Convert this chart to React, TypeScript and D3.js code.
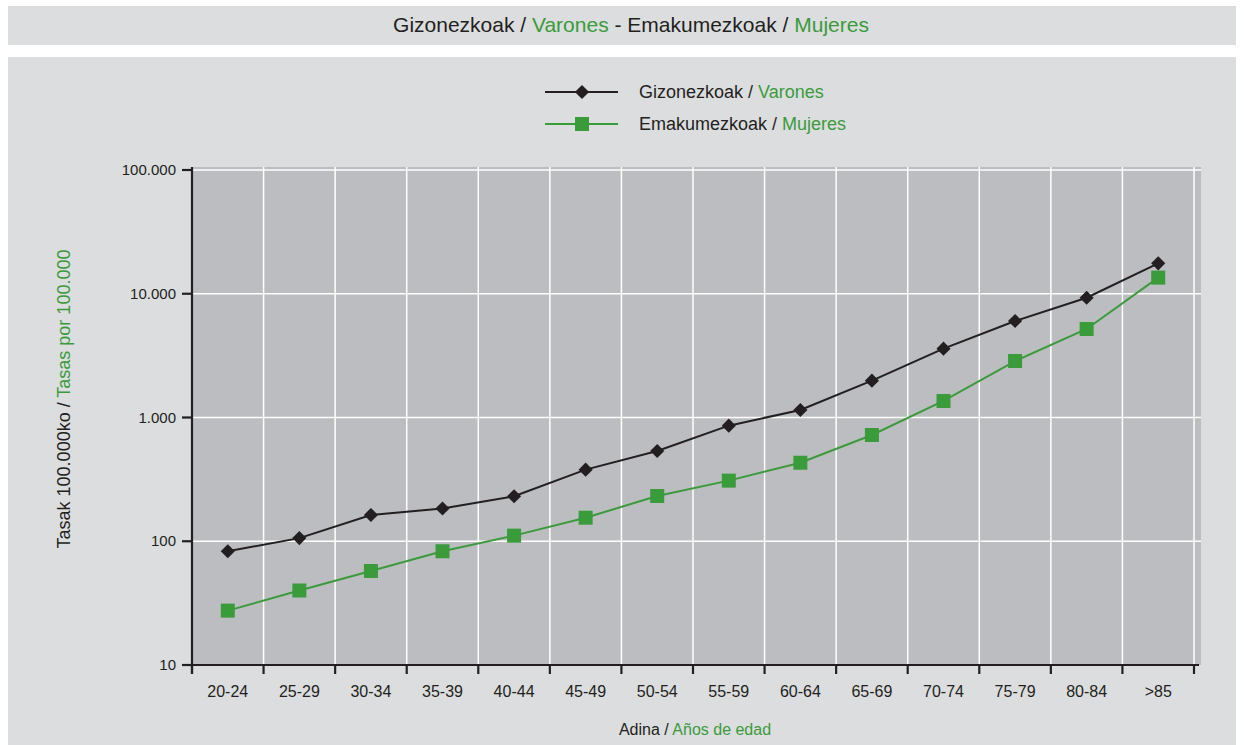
import React from "react";
import * as d3 from "d3";

const categories = ["20-24","25-29","30-34","35-39","40-44","45-49","50-54","55-59","60-64","65-69","70-74","75-79","80-84",">85"];
const menValues = [83, 106, 163, 184, 231, 379, 536, 859, 1150, 1985, 3600, 6025, 9290, 17600];
const womenValues = [27.5, 40, 57.5, 83, 111, 155, 232, 309, 431, 722, 1360, 2860, 5190, 13500];
const yTicks = [10, 100, 1000, 10000, 100000];
const yTickLabels = ["10", "100", "1.000", "10.000", "100.000"];

const W = 1244, H = 745;
const DARK = "#231f20";
const GREEN = "#3a9b3b";
const FONT = "'Liberation Sans', Arial, Helvetica, sans-serif";

export default function App() {
  const left = 192, right = 1194, top = 170, bottom = 665;
  const x = d3.scaleBand<string>().domain(categories).range([left, right]).padding(0);
  const y = d3.scaleLog().domain([10, 100000]).range([bottom, top]);
  const cx = (c: string) => (x(c) as number) + x.bandwidth() / 2;
  const line = d3.line<number>().x((_, i) => cx(categories[i])).y((v) => y(v));
  const diamond = d3.symbol().type(d3.symbolSquare).size(100)();
  const square = d3.symbol().type(d3.symbolSquare).size(196)();
  const xTickPos = categories.map((c) => x(c) as number).concat([right]);

  return (
    <svg width={W} height={H} style={{ position: "absolute", left: 0, top: 0, background: "#fff" }} fontFamily={FONT}>
      <rect x={8} y={6} width={1228} height={39} fill="#dcdddf" />
      <text x={631} y={32} textAnchor="middle" fontSize={21} fill={DARK}>
        Gizonezkoak / <tspan fill={GREEN}>Varones</tspan> - Emakumezkoak / <tspan fill={GREEN}>Mujeres</tspan>
      </text>
      <rect x={8} y={57} width={1228} height={688} fill="#dcdddf" />

      {/* legend */}
      <line x1={545} x2={618} y1={92} y2={92} stroke={DARK} strokeWidth={2} />
      <path d={diamond} transform="translate(582,92) rotate(45)" fill={DARK} />
      <text x={639} y={98} fontSize={18} fill={DARK}>Gizonezkoak / <tspan fill={GREEN}>Varones</tspan></text>
      <line x1={545} x2={618} y1={124} y2={124} stroke={GREEN} strokeWidth={2} />
      <path d={square} transform="translate(582,124)" fill={GREEN} />
      <text x={639} y={130} fontSize={18} fill={DARK}>Emakumezkoak / <tspan fill={GREEN}>Mujeres</tspan></text>

      {/* plot area */}
      <rect x={left} y={167} width={1201 - left} height={bottom - 167} fill="#bcbdc0" />
      {yTicks.slice(1).map((t) => (
        <line key={t} x1={left} x2={1201} y1={y(t)} y2={y(t)} stroke="#fff" strokeWidth={1.5} />
      ))}
      {xTickPos.slice(1).map((p, i) => (
        <line key={i} x1={p} x2={p} y1={167} y2={bottom} stroke="#fff" strokeWidth={1.5} />
      ))}

      {/* axes */}
      <line x1={left} x2={left} y1={167} y2={bottom + 9} stroke={DARK} strokeWidth={2.2} />
      <line x1={182} x2={1199} y1={bottom} y2={bottom} stroke={DARK} strokeWidth={2.2} />
      {yTicks.map((t, i) => (
        <g key={t}>
          <line x1={182} x2={left} y1={y(t)} y2={y(t)} stroke={DARK} strokeWidth={2.2} />
          <text x={176} y={y(t) + 5} textAnchor="end" fontSize={15} fill={DARK}>{yTickLabels[i]}</text>
        </g>
      ))}
      {xTickPos.map((p, i) => (
        <line key={i} x1={p} x2={p} y1={bottom} y2={bottom + 9} stroke={DARK} strokeWidth={2.2} />
      ))}
      {categories.map((c) => (
        <text key={c} x={cx(c)} y={697} textAnchor="middle" fontSize={16} fill={DARK}>{c}</text>
      ))}

      {/* series */}
      <path d={line(womenValues) as string} fill="none" stroke={GREEN} strokeWidth={2} />
      {womenValues.map((v, i) => (
        <path key={i} d={square} transform={`translate(${cx(categories[i])},${y(v)})`} fill={GREEN} />
      ))}
      <path d={line(menValues) as string} fill="none" stroke={DARK} strokeWidth={2} />
      {menValues.map((v, i) => (
        <path key={i} d={diamond} transform={`translate(${cx(categories[i])},${y(v)}) rotate(45)`} fill={DARK} />
      ))}

      {/* axis titles */}
      <text transform="translate(70,399) rotate(-90)" textAnchor="middle" fontSize={18} fill={DARK}>
        Tasak 100.000ko / <tspan fill={GREEN}>Tasas por 100.000</tspan>
      </text>
      <text x={695} y={735} textAnchor="middle" fontSize={16} fill={DARK}>
        Adina / <tspan fill={GREEN}>Años de edad</tspan>
      </text>
    </svg>
  );
}
